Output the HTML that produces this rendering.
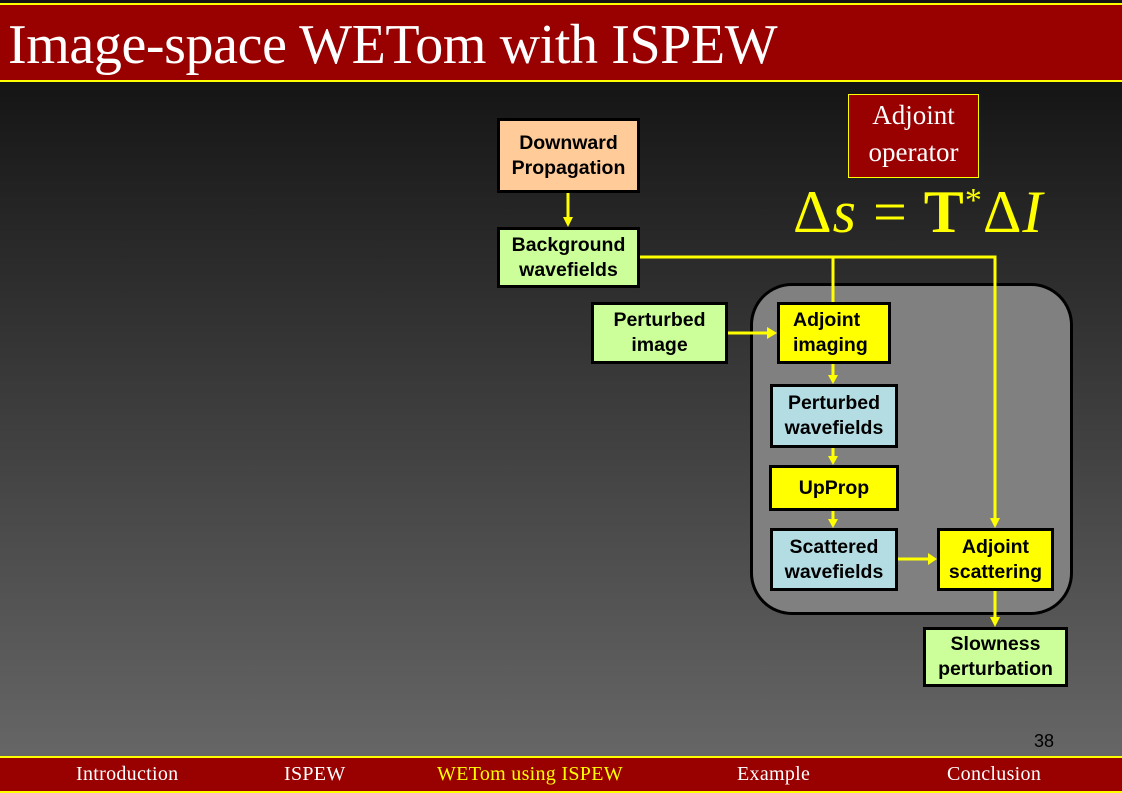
<!DOCTYPE html>
<html><head><style>
body{margin:0;width:1122px;height:793px;overflow:hidden;position:relative;background:linear-gradient(#141414 80px,#1a1a1a 120px,#666 755px);font-family:"Liberation Sans",sans-serif}
.hdr{position:absolute;left:0;top:3px;width:1122px;height:75px;background:#990000;border-top:2px solid #ff0;border-bottom:2px solid #ff0}
.hdr span{position:absolute;left:8px;top:8px;font:56px "Liberation Serif",serif;color:#fff;letter-spacing:-0.4px}
.ftr{position:absolute;left:0;top:756px;width:1122px;height:33px;background:#990000;border-top:2px solid #ff0;border-bottom:2px solid #ff0;font:20px "Liberation Serif",serif;color:#fff;letter-spacing:0.3px}
.ftr span{position:absolute;top:5px}
.b{position:absolute;box-sizing:border-box;border:3px solid #000;font-weight:bold;font-size:19.5px;text-align:center;line-height:25px;display:flex;align-items:center;justify-content:center;color:#000}
.g{background:#ccff99}.y{background:#ffff00}.c{background:#b3dde3}
</style></head><body>
<div class="hdr"><span>Image-space WETom with ISPEW</span></div>
<div style="position:absolute;left:750px;top:283px;width:323px;height:332px;box-sizing:border-box;background:#808080;border:3px solid #000;border-radius:42px"></div>
<svg style="position:absolute;left:0;top:0" width="1122" height="793">
<g stroke="#ff0" stroke-width="3" fill="none">
<polyline points="639,257 995,257 995,520"/>
<line x1="833" y1="257" x2="833" y2="302"/>
<line x1="568" y1="192" x2="568" y2="219"/>
<line x1="727" y1="333" x2="769" y2="333"/>
<line x1="833" y1="363" x2="833" y2="377"/>
<line x1="833" y1="447" x2="833" y2="458"/>
<line x1="833" y1="510" x2="833" y2="521"/>
<line x1="897" y1="559" x2="929" y2="559"/>
<line x1="995" y1="590" x2="995" y2="619"/>
</g>
<g fill="#ff0">
<polygon points="563,217 573,217 568,227"/>
<polygon points="767,327 767,339 777,333"/>
<polygon points="828,375 838,375 833,384"/>
<polygon points="828,456 838,456 833,465"/>
<polygon points="828,519 838,519 833,528"/>
<polygon points="928,553 928,565 937,559"/>
<polygon points="990,518 1000,518 995,528"/>
<polygon points="990,617 1000,617 995,627"/>
</g>
</svg>
<div class="b" style="left:497px;top:118px;width:143px;height:75px;background:#ffcc99">Downward<br>Propagation</div>
<div class="b g" style="left:497px;top:227px;width:143px;height:61px">Background<br>wavefields</div>
<div class="b g" style="left:591px;top:302px;width:137px;height:62px">Perturbed<br>image</div>
<div class="b y" style="left:777px;top:302px;width:114px;height:62px;justify-content:flex-start;text-align:left;padding-left:13px">Adjoint<br>imaging</div>
<div class="b c" style="left:770px;top:384px;width:128px;height:64px">Perturbed<br>wavefields</div>
<div class="b y" style="left:769px;top:465px;width:130px;height:46px">UpProp</div>
<div class="b c" style="left:770px;top:528px;width:128px;height:63px">Scattered<br>wavefields</div>
<div class="b y" style="left:937px;top:528px;width:117px;height:63px">Adjoint<br>scattering</div>
<div class="b g" style="left:923px;top:627px;width:145px;height:60px">Slowness<br>perturbation</div>
<div style="position:absolute;left:848px;top:94px;width:131px;height:84px;box-sizing:border-box;background:#990000;border:1px solid #ff0;color:#fff;font:27px 'Liberation Serif',serif;text-align:center;line-height:37px;padding-top:2px">Adjoint<br>operator</div>
<div style="position:absolute;left:793px;top:178px;color:#ff0;font:60px 'Liberation Serif',serif;white-space:nowrap;letter-spacing:1px">Δ<i>s</i> = <b>T</b><sup style="font-size:34px">*</sup>Δ<i>I</i></div>
<div style="position:absolute;left:1034px;top:731px;font-size:18px;color:#000">38</div>
<div class="ftr"><span style="left:76px">Introduction</span><span style="left:284px">ISPEW</span><span style="left:437px;color:#ff0">WETom using ISPEW</span><span style="left:737px">Example</span><span style="left:947px">Conclusion</span></div>
</body></html>
